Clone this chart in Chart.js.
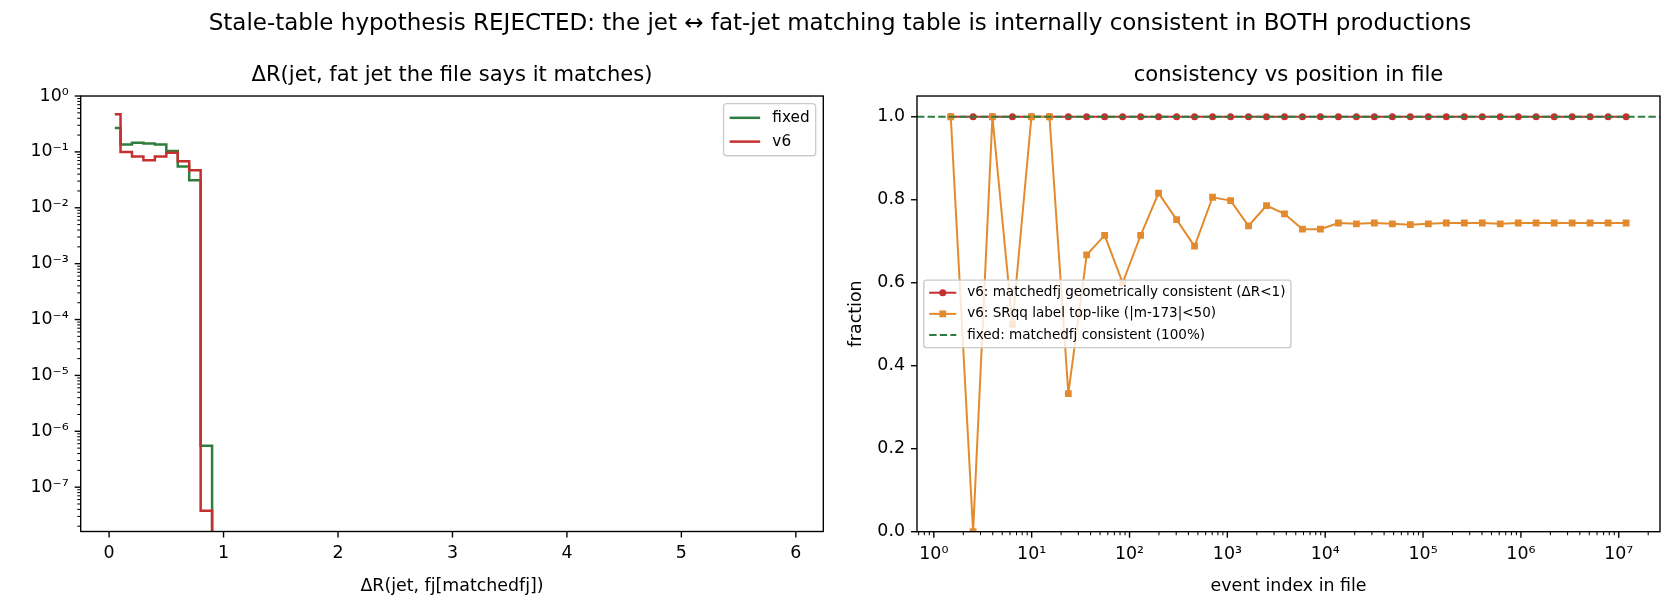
<!DOCTYPE html>
<html><head><meta charset="utf-8">
<script src="https://cdn.jsdelivr.net/npm/chart.js@4/dist/chart.umd.min.js"></script>
<style>
html,body{margin:0;padding:0;background:#fff;}
#wrap{position:relative;width:1680px;height:616px;overflow:hidden;background:#fff;}
#sup{position:absolute;left:0;top:11px;width:1680px;text-align:center;font-family:'DejaVu Sans';font-size:23px;line-height:23px;color:#000;white-space:nowrap;}
#c1{position:absolute;left:0;top:0;width:840px;height:616px;}
#c2{position:absolute;left:840px;top:0;width:840px;height:616px;}
</style></head><body>
<div id="wrap">
<canvas id="c1" width="840" height="616"></canvas>
<canvas id="c2" width="840" height="616"></canvas>
<div id="sup">Stale-table hypothesis REJECTED: the jet ↔ fat-jet matching table is internally consistent in BOTH productions</div>
</div>
<script>
// ---------------- data ----------------
// left panel: step histogram, bin edges and per-bin fractions (log y)
const binEdges   = [0.05, 0.1, 0.2, 0.3, 0.4, 0.5, 0.6, 0.7, 0.8, 0.9];
const fixedHist  = [0.267, 0.135, 0.146, 0.142, 0.135, 0.104, 0.055, 0.031, 5.5e-7];
const v6Hist     = [0.47, 0.0995, 0.083, 0.0706, 0.083, 0.097, 0.0678, 0.0468, 3.8e-8];
const leftXLim   = [-0.248, 6.24];
const leftYLim   = [1.61e-8, 1];
const leftXTicks = [0, 1, 2, 3, 4, 5, 6];
const leftYTickExp = [0, -1, -2, -3, -4, -5, -6, -7];

// right panel: consistency vs event index
const eventIdx = [1.49, 2.52, 3.97, 6.36, 9.94, 15.2, 23.7, 36.5, 55.7, 85.1, 130, 198, 303, 462, 706,
  1079, 1645, 2512, 3837, 5853, 8933, 13640, 20830, 31790, 48550, 74130, 113200, 172800, 264000,
  403000, 615000, 939000, 1430000, 2190000, 3340000, 5100000, 7790000, 11900000];
const geomConsistent = [1,1,1,1,1,1,1,1,1,1,1,1,1,1,1,1,1,1,1,1,1,1,1,1,1,1,1,1,1,1,1,1,1,1,1,1,1,1];
const topLike = [1.0, 0.0, 1.0, 0.5, 1.0, 1.0, 0.333, 0.667, 0.714, 0.6, 0.714, 0.816, 0.752, 0.688, 0.806,
  0.798, 0.737, 0.786, 0.766, 0.729, 0.729, 0.744, 0.742, 0.744, 0.742, 0.740, 0.742, 0.744, 0.744,
  0.744, 0.742, 0.744, 0.744, 0.744, 0.744, 0.744, 0.744, 0.744];
const fixedConsistency = 1.0;
const rightXLim = [0.673, 2.64e7];
const rightYLim = [0, 1.05];
const rightXTickExp = [0, 1, 2, 3, 4, 5, 6, 7];
const rightYTicks = [0, 0.2, 0.4, 0.6, 0.8, 1.0];

// ---------------- style ----------------
const PT = 1.72;
const TICKF = 17.4, TITLEF = 21.1;
const GREEN = '#2e7d3e', RED = '#c62f2f', ORANGE = '#e38b2c';
const FONT = "'DejaVu Sans'";
Chart.defaults.font.family = FONT;
Chart.defaults.color = '#000';

const SUP = {'-':'\u207B','0':'\u2070','1':'\u00B9','2':'\u00B2','3':'\u00B3','4':'\u2074','5':'\u2075','6':'\u2076','7':'\u2077','8':'\u2078','9':'\u2079'};
const pow10Label = k => '10' + String(k).split('').map(c => SUP[c]).join('');

function logTicks(lim) {
  const out = [];
  const k0 = Math.floor(Math.log10(lim[0])), k1 = Math.ceil(Math.log10(lim[1]));
  for (let k = k0; k <= k1; k++) for (let m = 1; m <= 9; m++) {
    const v = m * Math.pow(10, k);
    if (v >= lim[0] * 0.9999 && v <= lim[1] * 1.0001) out.push({value: v, minor: m !== 1, exp: k});
  }
  return out;
}

const frameTicks = {
  id: 'frameTicks',
  afterDraw(chart) {
    const {ctx, chartArea: a} = chart;
    ctx.save();
    ctx.strokeStyle = '#000';
    for (const id of ['x', 'y']) {
      const s = chart.scales[id];
      for (const t of s.ticks) {
        const len = t.minor ? 2 * PT : 3.5 * PT;
        ctx.lineWidth = t.minor ? 0.6 * PT : 0.8 * PT;
        const p = s.getPixelForValue(t.value);
        ctx.beginPath();
        if (id === 'x') {
          if (p < a.left - 0.5 || p > a.right + 0.5) continue;
          ctx.moveTo(p, a.bottom); ctx.lineTo(p, a.bottom + len);
        } else {
          if (p < a.top - 0.5 || p > a.bottom + 0.5) continue;
          ctx.moveTo(a.left, p); ctx.lineTo(a.left - len, p);
        }
        ctx.stroke();
      }
    }
    ctx.lineWidth = 0.8 * PT;
    ctx.strokeRect(a.left, a.top, a.right - a.left, a.bottom - a.top);
    ctx.restore();
  }
};

const inLegend = {
  id: 'inLegend',
  afterDraw(chart, args, opts) {
    const {ctx, chartArea: a} = chart;
    const f = opts.size;
    ctx.save();
    ctx.font = f + 'px ' + FONT;
    const items = chart.data.datasets;
    const rowH = 1.06 * f, gap = 0.5 * f, pad = 0.4 * f;
    const tw = Math.max(...items.map(d => ctx.measureText(d.label).width));
    const w = 3.6 * f + tw;
    const h = 2 * pad + items.length * rowH + (items.length - 1) * gap;
    let x0, y0;
    if (opts.loc === 'upper right') { x0 = a.right - 0.5 * f - w; y0 = a.top + 0.5 * f; }
    else { x0 = a.left + 0.5 * f; y0 = (a.top + a.bottom) / 2 - h / 2; }
    ctx.beginPath();
    ctx.roundRect(x0, y0, w, h, 0.2 * f);
    ctx.fillStyle = 'rgba(255,255,255,0.8)';
    ctx.fill();
    ctx.lineWidth = 0.8 * PT;
    ctx.strokeStyle = '#cccccc';
    ctx.stroke();
    items.forEach((d, i) => {
      const cy = y0 + pad + i * (rowH + gap) + rowH / 2;
      const hx0 = x0 + pad, hx1 = hx0 + 2 * f;
      ctx.strokeStyle = d.borderColor;
      ctx.lineWidth = d.borderWidth;
      ctx.setLineDash(d.borderDash || []);
      ctx.beginPath(); ctx.moveTo(hx0, cy); ctx.lineTo(hx1, cy); ctx.stroke();
      ctx.setLineDash([]);
      if (d.pointRadius > 0) {
        ctx.fillStyle = d.pointBackgroundColor;
        Chart.helpers.drawPoint(ctx, {pointStyle: d.pointStyle, radius: d.pointRadius, borderWidth: 0, rotation: 0}, (hx0 + hx1) / 2, cy);
      }
      ctx.fillStyle = '#000';
      ctx.textBaseline = 'middle';
      ctx.textAlign = 'left';
      ctx.fillText(d.label, x0 + 3.2 * f, cy);
    });
    ctx.restore();
  }
};

function fixSize(w, h) {
  return function (scale) { if (w !== null) scale.width = w; if (h !== null) scale.height = h; };
}

// ---------------- left chart ----------------
const stepPts = (vals) => binEdges.map((e, i) => ({x: e, y: i < vals.length ? vals[i] : leftYLim[0]}));

new Chart(document.getElementById('c1'), {
  type: 'line',
  data: {datasets: [
    {label: 'fixed', data: stepPts(fixedHist), borderColor: GREEN, borderWidth: 2.5, stepped: 'before', pointRadius: 0, fill: false, order: 1},
    {label: 'v6', data: stepPts(v6Hist), borderColor: RED, borderWidth: 2.5, stepped: 'before', pointRadius: 0, fill: false, order: 0}
  ]},
  options: {
    responsive: false, animation: false, events: [],
    layout: {padding: {left: 0, right: 840 - 823.3, top: 0, bottom: 0}},
    plugins: {
      legend: {display: false}, tooltip: {enabled: false},
      title: {display: true, fullSize: false, text: 'ΔR(jet, fat jet the file says it matches)', color: '#000',
        font: {size: TITLEF, weight: 'normal', family: FONT}, padding: {top: 62.7, bottom: 8.0}},
      inLegend: {loc: 'upper right', size: 15.25}
    },
    scales: {
      x: {type: 'linear', min: leftXLim[0], max: leftXLim[1],
        afterBuildTicks: s => { s.ticks = leftXTicks.map(v => ({value: v, minor: false})); },
        afterFit: fixSize(null, 616 - 531.5),
        grid: {display: false, drawTicks: false}, border: {display: false},
        ticks: {autoSkip: false, maxRotation: 0, minRotation: 0, padding: 12, color: '#000', font: {size: TICKF},
          callback: v => String(v)},
        title: {display: true, text: 'ΔR(jet, fj[matchedfj])', color: '#000', font: {size: TICKF}, padding: {top: 0, bottom: 19.5}}
      },
      y: {type: 'logarithmic', min: leftYLim[0], max: leftYLim[1],
        afterBuildTicks: s => { s.ticks = logTicks(leftYLim); },
        afterFit: fixSize(80.7, null),
        grid: {display: false, drawTicks: false}, border: {display: false},
        ticks: {autoSkip: false, padding: 12, color: '#000', font: {size: TICKF},
          callback: (v, i, ts) => { const t = ts[i]; return (t.minor || !leftYTickExp.includes(t.exp)) ? '' : pow10Label(t.exp); }}
      }
    }
  },
  plugins: [frameTicks, inLegend]
});

// ---------------- right chart ----------------
new Chart(document.getElementById('c2'), {
  type: 'line',
  data: {datasets: [
    {label: 'v6: matchedfj geometrically consistent (ΔR<1)', data: eventIdx.map((x, i) => ({x, y: geomConsistent[i]})),
      borderColor: RED, borderWidth: 2, pointRadius: 3.5, pointStyle: 'circle', pointBackgroundColor: RED, pointBorderWidth: 0, order: 2},
    {label: 'v6: SRqq label top-like (|m-173|<50)', data: eventIdx.map((x, i) => ({x, y: topLike[i]})),
      borderColor: ORANGE, borderWidth: 2, pointRadius: 4.8, pointStyle: 'rect', pointBackgroundColor: ORANGE, pointBorderWidth: 0, order: 1},
    {label: 'fixed: matchedfj consistent (100%)', data: [{x: rightXLim[0], y: fixedConsistency}, {x: rightXLim[1], y: fixedConsistency}],
      borderColor: GREEN, borderWidth: 2, borderDash: [7.4, 3.2], pointRadius: 0, order: 0}
  ]},
  options: {
    responsive: false, animation: false, events: [],
    layout: {padding: {left: 0, right: 840 - 820, top: 0, bottom: 0}},
    plugins: {
      legend: {display: false}, tooltip: {enabled: false},
      title: {display: true, fullSize: false, text: 'consistency vs position in file', color: '#000',
        font: {size: TITLEF, weight: 'normal', family: FONT}, padding: {top: 62.7, bottom: 8.0}},
      inLegend: {loc: 'center left', size: 13.55}
    },
    scales: {
      x: {type: 'logarithmic', min: rightXLim[0], max: rightXLim[1],
        afterBuildTicks: s => { s.ticks = logTicks(rightXLim); },
        afterFit: fixSize(null, 616 - 531.7),
        grid: {display: false, drawTicks: false}, border: {display: false},
        ticks: {autoSkip: false, maxRotation: 0, minRotation: 0, padding: 12, color: '#000', font: {size: TICKF},
          callback: (v, i, ts) => { const t = ts[i]; return (t.minor || !rightXTickExp.includes(t.exp)) ? '' : pow10Label(t.exp); }},
        title: {display: true, text: 'event index in file', color: '#000', font: {size: TICKF}, padding: {top: 0, bottom: 19.5}}
      },
      y: {type: 'linear', min: rightYLim[0], max: rightYLim[1],
        afterBuildTicks: s => { s.ticks = rightYTicks.map(v => ({value: v, minor: false})); },
        afterFit: fixSize(77, null),
        grid: {display: false, drawTicks: false}, border: {display: false},
        ticks: {autoSkip: false, padding: 12, color: '#000', font: {size: TICKF}, callback: v => Number(v).toFixed(1)},
        title: {display: true, text: 'fraction', color: '#000', font: {size: TICKF}, padding: {top: 6.5, bottom: 0}}
      }
    }
  },
  plugins: [frameTicks, inLegend]
});
</script>
</body></html>
